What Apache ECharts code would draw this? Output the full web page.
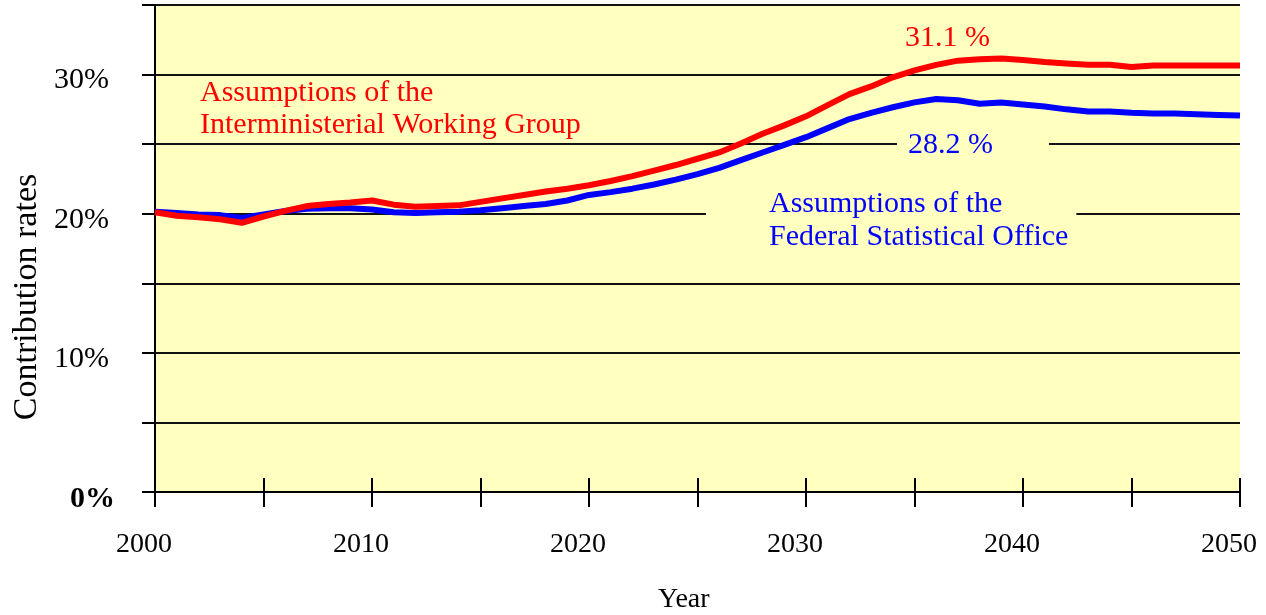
<!DOCTYPE html>
<html>
<head>
<meta charset="utf-8">
<script src="https://cdn.jsdelivr.net/npm/echarts@6/dist/echarts.min.js"></script>
<style>
html,body{margin:0;padding:0;background:#fff;}
#c{width:1266px;height:615px;}
</style>
</head>
<body>
<div id="c"></div>
<script>
var years = [];
for (var y = 2000; y <= 2050; y++) years.push(y);

var interministerial = [
  20.1, 19.85, 19.75, 19.6, 19.35, 19.8, 20.2, 20.55, 20.7, 20.8,
  20.95, 20.65, 20.5, 20.55, 20.6, 20.85, 21.1, 21.35, 21.6, 21.8,
  22.05, 22.35, 22.7, 23.1, 23.5, 23.95, 24.4, 25.05, 25.75, 26.35,
  27.0, 27.8, 28.6, 29.15, 29.8, 30.3, 30.7, 31.0, 31.1, 31.15,
  31.05, 30.9, 30.8, 30.7, 30.7, 30.55, 30.65, 30.65, 30.65, 30.65,
  30.65
];
var federal = [
  20.15, 20.05, 19.95, 19.9, 19.7, 19.95, 20.2, 20.35, 20.4, 20.4,
  20.3, 20.1, 20.05, 20.1, 20.15, 20.25, 20.4, 20.55, 20.7, 20.95,
  21.35, 21.55, 21.8, 22.1, 22.45, 22.85, 23.3, 23.85, 24.4, 24.95,
  25.5, 26.15, 26.8, 27.25, 27.65, 28.0, 28.25, 28.15, 27.9, 28.0,
  27.85, 27.7, 27.5, 27.35, 27.35, 27.25, 27.2, 27.2, 27.15, 27.1,
  27.05
];
var yTickLabels = {0: '0%', 10: '10%', 20: '20%', 30: '30%'};
var xLabelYears = [2000, 2010, 2020, 2030, 2040, 2050];

var FONT = '"Liberation Serif", "Times New Roman", serif';
var BG = '#ffffc0';

function pairs(arr) { return years.map(function (yr, i) { return [yr, arr[i]]; }); }

var chart = echarts.init(document.getElementById('c'), null, {renderer: 'canvas'});
chart.setOption({
  animation: false,
  backgroundColor: '#ffffff',
  grid: {left: 155, right: 26, top: 5, bottom: 123, show: true, backgroundColor: BG, borderWidth: 0},
  xAxis: [{
    type: 'value', min: 2000, max: 2050, interval: 5,
    axisLine: {show: true, lineStyle: {color: '#000', width: 2}},
    axisTick: {show: true, inside: false, length: 15, lineStyle: {color: '#000', width: 2}},
    axisLabel: {
      margin: 39, color: '#000', fontFamily: FONT, fontSize: 28, padding: [0, 22, 0, 0],
      formatter: function (v) { return xLabelYears.indexOf(v) >= 0 ? String(v) : ''; }
    },
    splitLine: {show: false}
  }, {
    type: 'value', min: 2000, max: 2050, interval: 5, position: 'bottom',
    axisLine: {show: false},
    axisTick: {show: true, inside: true, length: 14, lineStyle: {color: '#000', width: 2}},
    axisLabel: {show: false},
    splitLine: {show: false}
  }],
  yAxis: {
    type: 'value', min: 0, max: 35, interval: 5,
    axisLine: {show: true, lineStyle: {color: '#000', width: 2}},
    axisTick: {show: true, length: 13, lineStyle: {color: '#000', width: 2}},
    axisLabel: {
      margin: 46, color: '#000', fontFamily: FONT, fontSize: 30, padding: [12, 0, 0, 0],
      formatter: function (v) {
        if (v === 0) return '{b|0%}';
        return yTickLabels[v] || '';
      },
      rich: {b: {fontFamily: FONT, fontSize: 30, lineHeight: 32, fontWeight: 'bold', color: '#000', padding: [2, -6, 0, 0]}}
    },
    splitLine: {show: true, lineStyle: {color: '#111', width: 2}}
  },
  series: [{
    name: 'Interministerial Working Group', type: 'line', xAxisIndex: 0,
    data: pairs(interministerial), showSymbol: false, symbol: 'none',
    lineStyle: {color: '#ff0000', width: 6}, z: 3
  }, {
    name: 'Federal Statistical Office', type: 'line', xAxisIndex: 0,
    data: pairs(federal), showSymbol: false, symbol: 'none',
    lineStyle: {color: '#0000ff', width: 6}, z: 2
  }],
  graphic: [
    {type: 'text', left: 200, top: 77, z: 11,
     style: {text: 'Assumptions of the\nInterministerial Working Group', fill: '#ff0000',
             font: '30px ' + FONT, lineHeight: 32}},
    {type: 'text', left: 905, top: 23, z: 11,
     style: {text: '31.1 %', fill: '#ff0000', font: '30px ' + FONT}},
    {type: 'text', left: 897, top: 128, z: 11,
     style: {text: '28.2 %', fill: '#0000ff', font: '30px ' + FONT,
             backgroundColor: BG, padding: [2, 56, 2, 11]}},
    {type: 'text', left: 706, top: 184, z: 11,
     style: {text: 'Assumptions of the\nFederal Statistical Office', fill: '#0000ff',
             font: '30px ' + FONT, lineHeight: 33,
             backgroundColor: BG, padding: [4, 8, 4, 63]}},
    {type: 'text', left: 658, top: 586, z: 11,
     style: {text: 'Year', fill: '#000', font: '28px ' + FONT}},
    {type: 'text', x: 27, y: 297, rotation: Math.PI / 2, z: 11,
     style: {text: 'Contribution rates', fill: '#000', font: '34px ' + FONT,
             textAlign: 'center', textVerticalAlign: 'middle'}}
  ]
});
</script>
</body>
</html>
